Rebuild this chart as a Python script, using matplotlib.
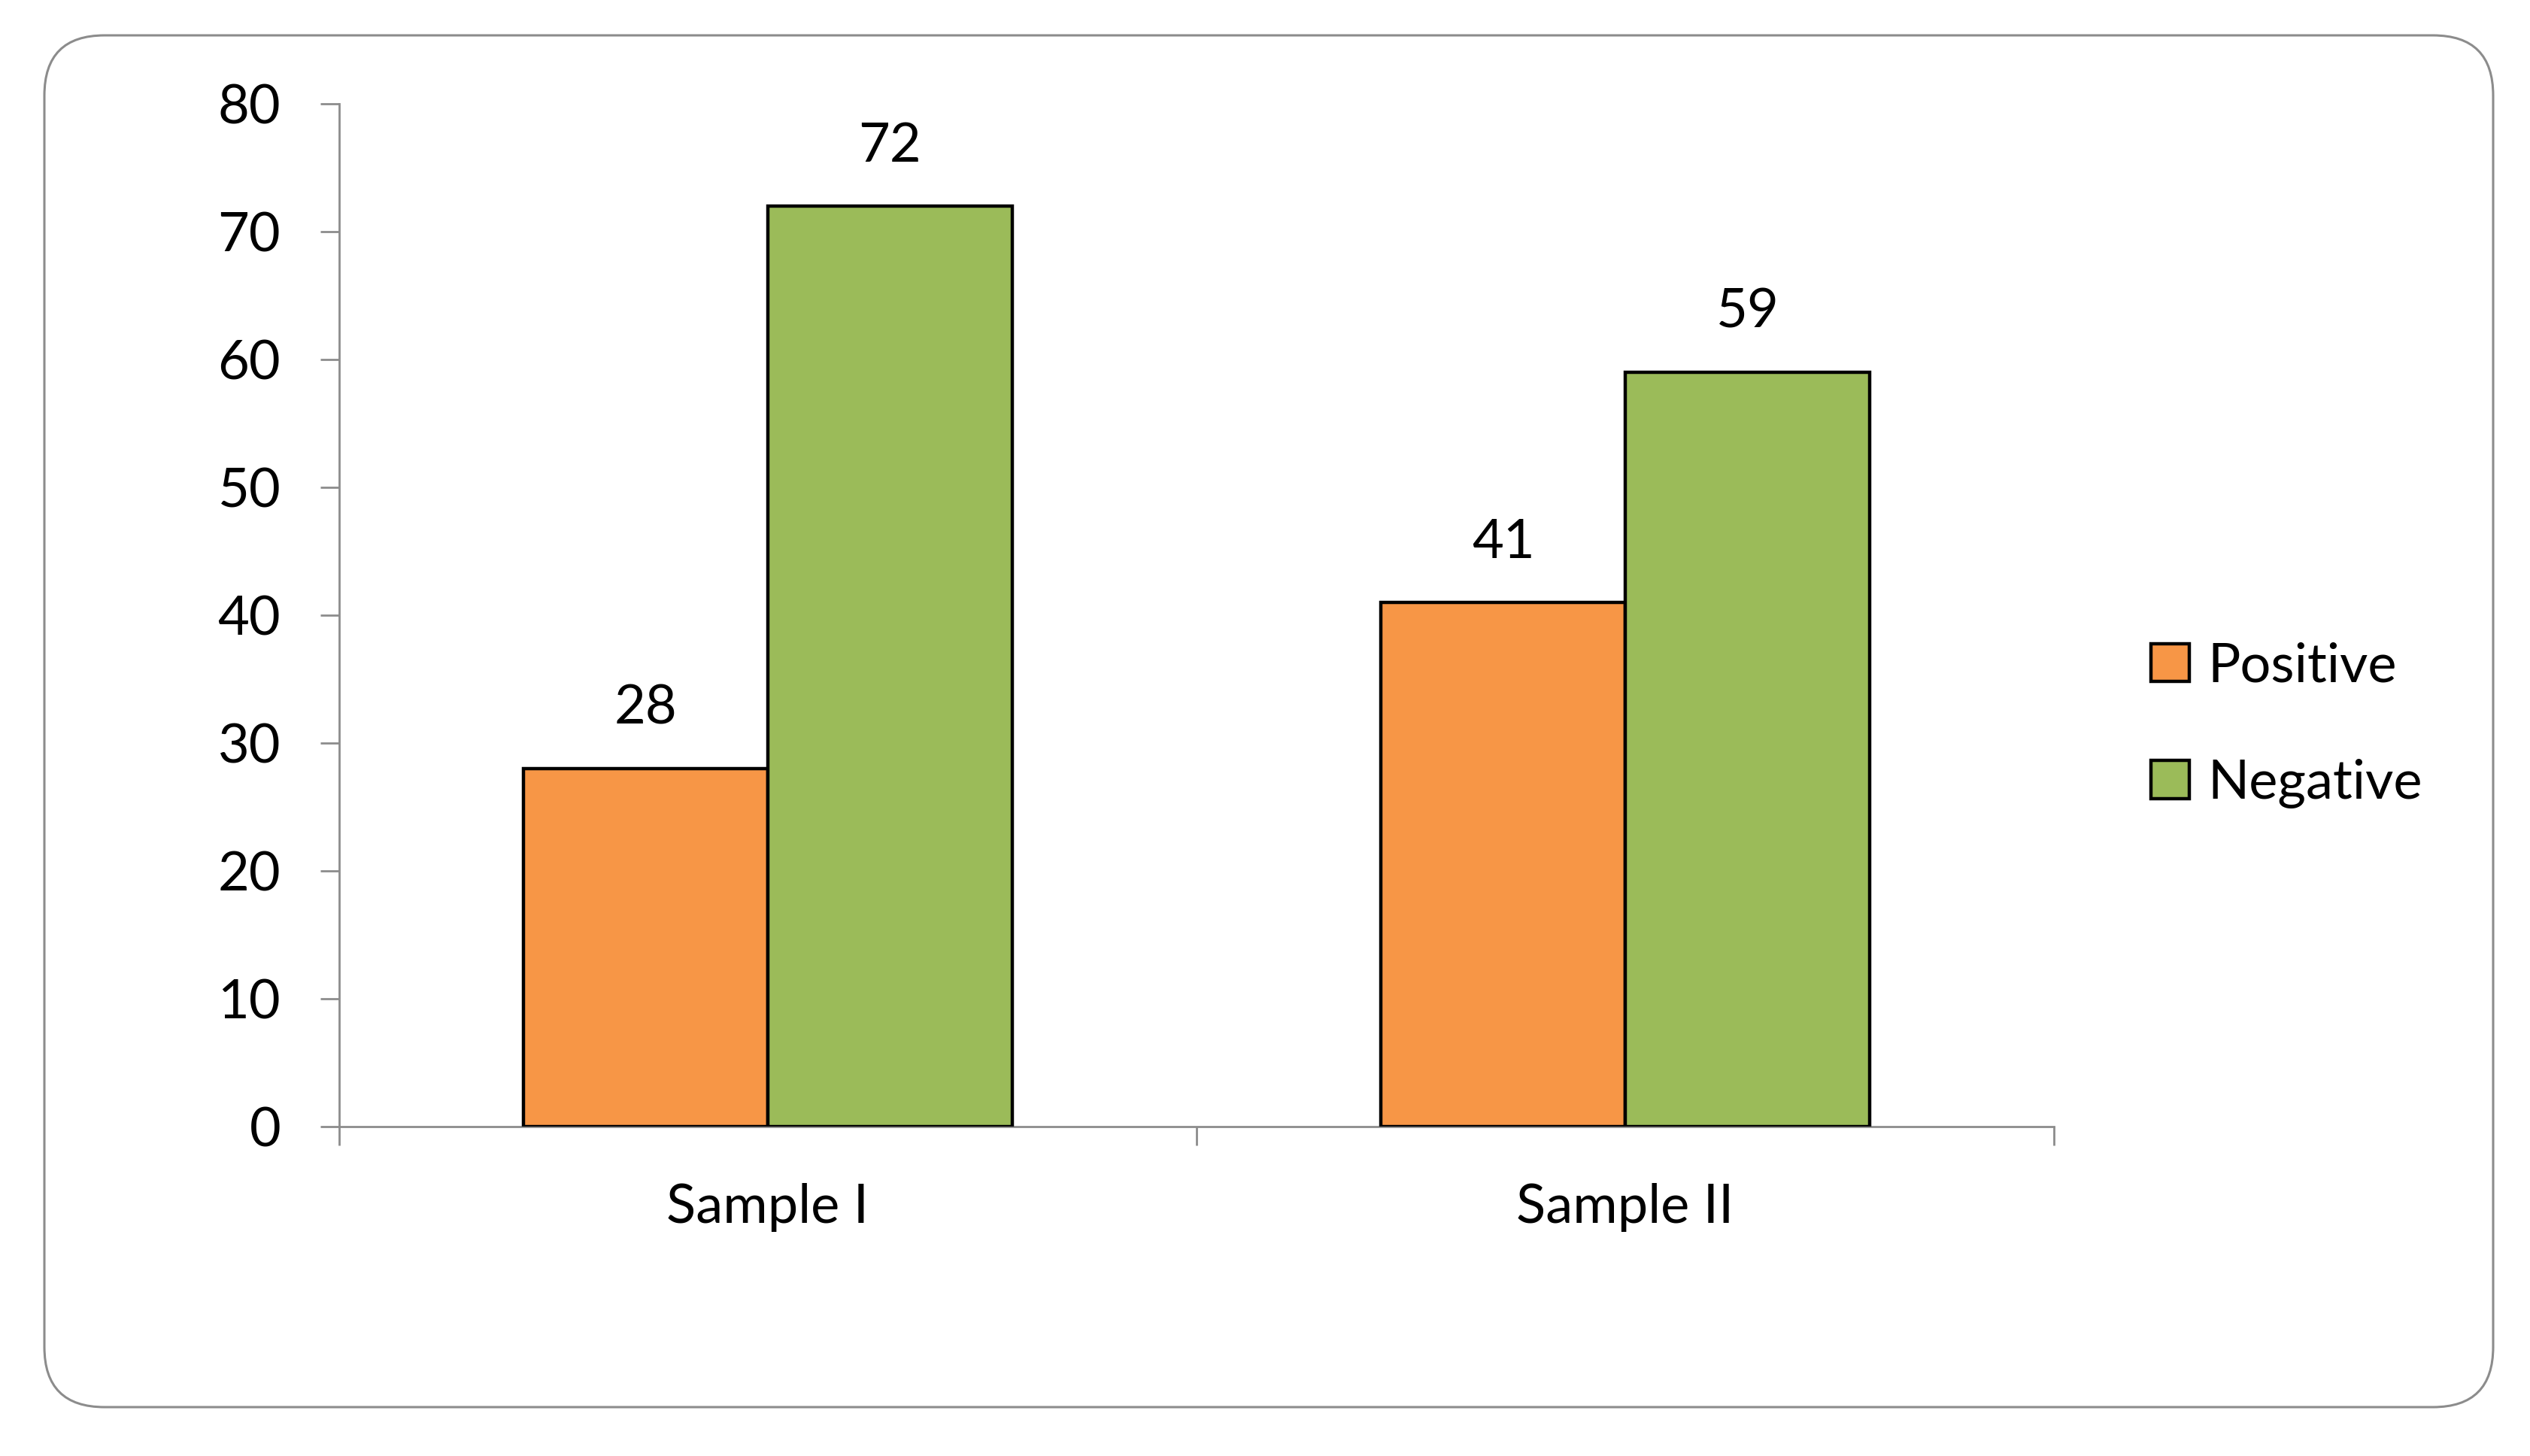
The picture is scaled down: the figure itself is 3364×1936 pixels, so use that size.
import matplotlib
matplotlib.use("Agg")
import matplotlib.pyplot as plt
from matplotlib.patches import FancyBboxPatch
import numpy as np

categories = ["Sample I", "Sample II"]
series_names = ["Positive", "Negative"]
positive = [28, 41]
negative = [72, 59]
yticks = [0, 10, 20, 30, 40, 50, 60, 70, 80]

colors = ["#F79646", "#9BBB59"]
grey = "#8C8C8C"

plt.rcParams['font.family'] = ['Lato', 'DejaVu Sans']

W, H, DPI = 3364, 1936, 200
fig = plt.figure(figsize=(W / DPI, H / DPI), dpi=DPI)

# rounded border in pixel coords
border = FancyBboxPatch((59, H - 1871), 3315 - 59, 1871 - 47,
                        boxstyle="round,pad=0,rounding_size=80",
                        transform=None, facecolor="none", edgecolor=grey,
                        linewidth=1.1, zorder=-1)
fig.patches.append(border)

ax = fig.add_axes([451 / W, 1 - 1498 / H, (2731 - 451) / W, (1498 - 138) / H])
ax.set_facecolor("none")

x = np.arange(len(categories))
bw = 0.285
vals = [positive, negative]
for i, (name, v) in enumerate(zip(series_names, vals)):
    off = (i - 0.5) * bw
    bars = ax.bar(x + off, v, bw, color=colors[i], edgecolor="black",
                  linewidth=1.6, label=name, zorder=3)
    for b, val in zip(bars, v):
        ax.annotate(str(val), (b.get_x() + b.get_width() / 2, b.get_height()),
                    xytext=(0, 17), textcoords="offset points",
                    ha="center", va="bottom", fontsize=26)

ax.set_xlim(-0.5, len(categories) - 0.5)
ax.set_ylim(0, 80)
ax.set_yticks(yticks)
ax.set_yticklabels([str(t) for t in yticks])

ax.set_xticks(x)
ax.set_xticklabels(categories)
ax.set_xticks(np.arange(-0.5, len(categories), 1.0), minor=True)

for s in ["top", "right"]:
    ax.spines[s].set_visible(False)
for s in ["left", "bottom"]:
    ax.spines[s].set_color(grey)
    ax.spines[s].set_linewidth(1.0)

ax.tick_params(axis="y", direction="out", length=9, width=1.0, color=grey,
               pad=19, labelsize=26)
ax.tick_params(axis="x", which="major", length=0, pad=27, labelsize=26)
ax.tick_params(axis="x", which="minor", direction="out", length=9, width=1.0,
               color=grey)

leg = fig.legend(loc="center left", bbox_to_anchor=(2860 / W, 1 - 964 / H),
                 frameon=False, fontsize=26, handlelength=0.7, handleheight=0.7,
                 handletextpad=0.35, labelspacing=1.25, borderpad=0,
                 borderaxespad=0)

fig.savefig("out.png", dpi=DPI, facecolor="white")
